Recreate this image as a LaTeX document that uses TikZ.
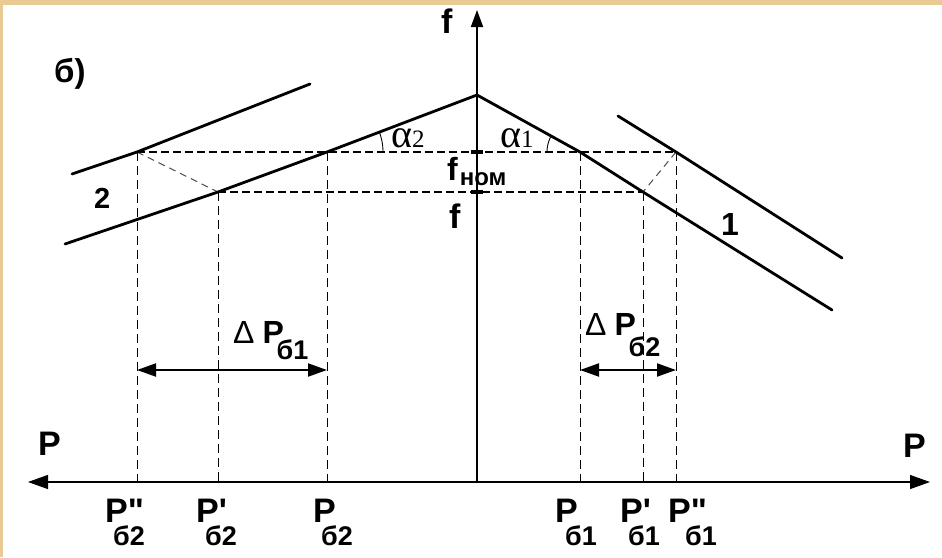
\documentclass[tikz,border=0pt]{standalone}
\usepackage{fontspec}
\setmainfont{Liberation Sans}
\newfontfamily\lab{Liberation Sans}
\newfontfamily\serlab{Liberation Serif}
\usetikzlibrary{arrows.meta}
\definecolor{framecol}{RGB}{232,202,146}
\newcommand\psub[3]{\rlap{\hspace{#1}\raisebox{-#2}{\fontsize{27}{27}\selectfont #3}}}
\begin{document}
\begin{tikzpicture}[x=1pt,y=-1pt,
  thickline/.style={line width=2.8pt, line cap=round, line join=round},
  hdash/.style={line width=1.6pt, dash pattern=on 8pt off 4pt},
  vdash/.style={line width=0.9pt, dash pattern=on 9pt off 5pt},
  ddash/.style={line width=1pt, dash pattern=on 7pt off 5pt, black!70},
  dimarrow/.style={line width=2pt, {Triangle[length=19pt,width=13pt]}-{Triangle[length=19pt,width=13pt]}},
  txt/.style={inner sep=0pt, anchor=base west, font=\lab\bfseries\fontsize{#1}{#1}\selectfont},
  axmark/.style={fill=black, minimum width=12pt, minimum height=4.5pt, inner sep=0pt},
  alab/.style={inner sep=0pt, anchor=base west, font=\serlab\fontsize{40}{40}\selectfont},
]
% background and frame
\fill[white] (0,0) rectangle (942,557);
\fill[framecol] (0,0) rectangle (942,5);
\fill[framecol] (0,0) rectangle (2.5,557);

% coordinates
\coordinate (O) at (477,482);
\coordinate (ftip) at (477,10);
\coordinate (Pl) at (28,482);
\coordinate (Pr) at (930,482);
\coordinate (peak) at (477,95);
\coordinate (L2s) at (65,244);
\coordinate (B) at (218,192);
\coordinate (C) at (327,152);
\coordinate (D) at (580,152);
\coordinate (E) at (643,192);
\coordinate (L1e) at (832,310);
\coordinate (U2s) at (72,174);
\coordinate (A) at (137,152);
\coordinate (U2e) at (310,84);
\coordinate (U1s) at (618,116);
\coordinate (F) at (676,152);
\coordinate (U1e) at (842,258);
\coordinate (d1a) at (137,370);
\coordinate (d1b) at (327,370);
\coordinate (d2a) at (580,370);
\coordinate (d2b) at (676,370);

% axes
\draw[line width=1.3pt, {Triangle[length=20pt,width=14pt]}-{Triangle[length=20pt,width=14pt]}] (Pl) -- (Pr);
\draw[line width=1.8pt, -{Triangle[length=17pt,width=12pt]}] (O) -- (ftip);

% dashed construction lines
\draw[hdash] (A) -- (F);
\draw[hdash] (B) -- (E);
\foreach \p in {A,B,C,D,E,F} \draw[vdash] (\p) -- (\p |- O);
\draw[ddash] (A) -- (B);
\draw[ddash] (F) -- (E);

% characteristics
\draw[thickline] (L2s) -- (B) -- (C) -- (peak) -- (D) -- (E) -- (L1e);
\draw[thickline] (U2s) -- (A) -- (U2e);
\draw[thickline] (U1s) -- (F) -- (U1e);

% marks on f axis
\node[axmark] (m1) at (477,152) {};
\node[axmark] (m2) at (477,192) {};

% angle arcs
\draw[line width=0.9pt] plot[domain=0:21, samples=20] ({327+56*cos(\x)},{152-56*sin(\x)});
\draw[line width=0.9pt] plot[domain=151:180, samples=20] ({580+33*cos(\x)},{152-33*sin(\x)});

% dimension arrows
\draw[dimarrow] (d1a) -- (d1b);
\draw[dimarrow] (d2a) -- (d2b);

% labels
\node[txt=33] (lb) at (54,82) {б)};
\node[txt=29] (l2) at (94,208) {2};
\node[txt=32] (l1) at (721,235) {1};
\node[txt=34] (fT) at (441,33) {f};
\node[txt=32] (fn) at (447,180) {f\hspace{2pt}\raisebox{-5pt}{\fontsize{24}{24}\selectfont ном}};
\node[txt=34] (fL) at (449,228) {f};
\node[txt=34] (PLl) at (38,455) {P};
\node[txt=34] (PRl) at (903,457) {P};
\node[alab] (a2) at (391,147) {α\fontsize{25}{25}\selectfont 2};
\node[alab] (a1) at (500,147) {α\fontsize{25}{25}\selectfont 1};

% delta P labels
\node[txt=32] (dP1) at (233,343) {{\mdseries Δ}\hspace{8pt}\psub{14pt}{16pt}{б1}P};
\node[txt=32] (dP2) at (585,335) {{\mdseries Δ}\hspace{8pt}\psub{14pt}{21pt}{б2}P};

% bottom labels
\node[txt=34] (p1) at (105,522) {\psub{8pt}{23pt}{б2}P"};
\node[txt=34] (p2) at (196,522) {\psub{9pt}{23pt}{б2}P'};
\node[txt=34] (p3) at (313,522) {\psub{8pt}{23pt}{б2}P};
\node[txt=34] (p4) at (555,522) {\psub{10pt}{23pt}{б1}P};
\node[txt=34] (p5) at (620,522) {\psub{8pt}{23pt}{б1}P'};
\node[txt=34] (p6) at (668,522) {\psub{17pt}{23pt}{б1}P"};
\end{tikzpicture}
\end{document}
